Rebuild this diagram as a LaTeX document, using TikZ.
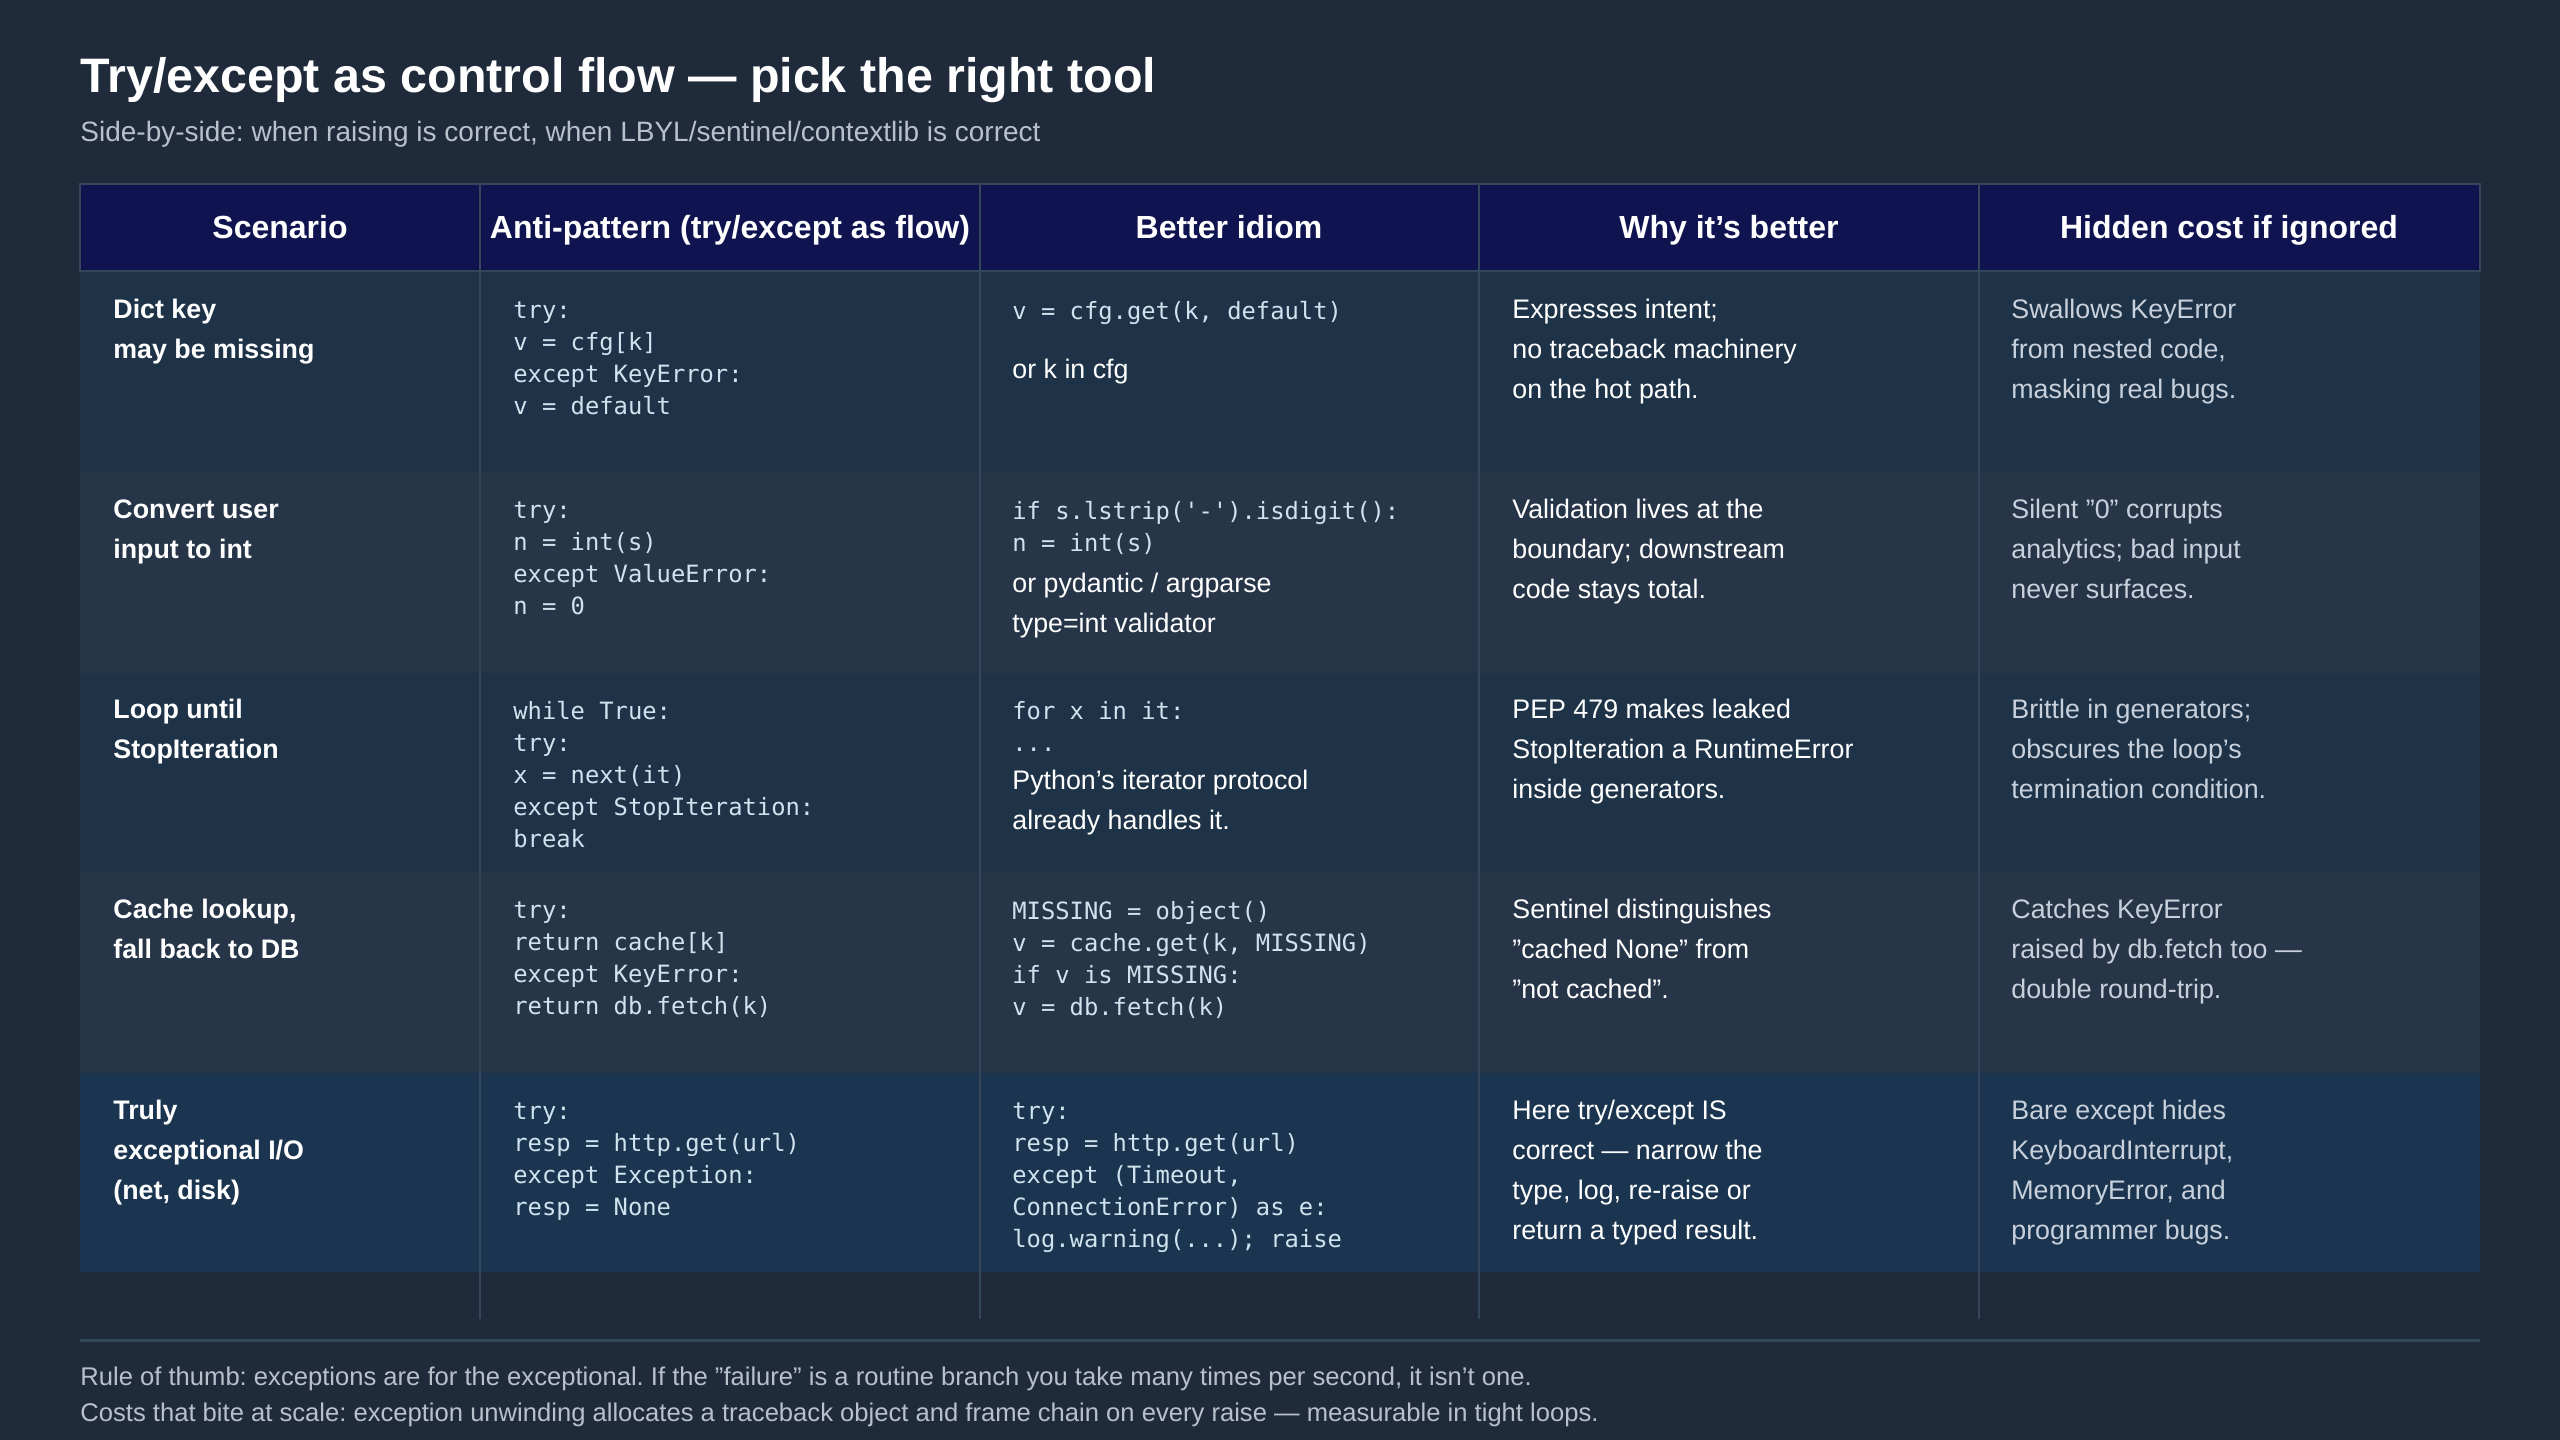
\documentclass[tikz,border=0pt]{standalone}
\usepackage{fontspec}
\setmainfont{Liberation Sans}
\setmonofont{DejaVu Sans Mono}
\usetikzlibrary{positioning}
\frenchspacing
\definecolor{bgc}{HTML}{1F2A3A}
\definecolor{headc}{HTML}{0F1450}
\definecolor{rowa}{HTML}{1E3347}
\definecolor{rowb}{HTML}{263548}
\definecolor{rowc}{HTML}{1B3550}
\definecolor{gridc}{HTML}{34465A}
\definecolor{codec}{HTML}{CFE3EE}
\definecolor{costc}{HTML}{C8D0DC}
\definecolor{footc}{HTML}{B8C0CC}
\newcommand{\dq}{\char34{}}
\newcommand{\ap}{\char39{}}
\tikzset{
  cell/.style={anchor=north west,inner sep=0pt,align=left,text=white,font=\fontsize{13.4}{20}\selectfont},
  scen/.style={cell,font=\fontsize{13.4}{20}\selectfont\bfseries},
  code/.style={cell,text=codec,font=\fontsize{11.9}{16}\ttfamily},
  cost/.style={cell,text=costc},
  head/.style={anchor=base,text=white,font=\fontsize{16}{20}\selectfont\bfseries},
  foot/.style={anchor=west,inner sep=0pt,text=footc,font=\fontsize{12.8}{16}\selectfont}
}
\begin{document}
\begin{tikzpicture}[x=0.5pt,y=-0.5pt]
  % background
  \fill[bgc] (0,0) rectangle (2560,1440);
  \useasboundingbox (0,0) rectangle (2560,1440);

  % title
  \node[anchor=west,inner sep=0pt,text=white,font=\fontsize{24.2}{28}\selectfont\bfseries] (title) at (80,80) {Try/except as control flow — pick the right tool};
  \node[anchor=west,inner sep=0pt,text=footc,font=\fontsize{14}{18}\selectfont] (subtitle) at (80,134) {Side-by-side: when raising is correct, when LBYL/sentinel/contextlib is correct};

  % header and row bands
  \fill[headc] (80,184) rectangle (2480,271);
  \fill[rowa] (80,271) rectangle (2480,472);
  \fill[rowb] (80,472) rectangle (2480,673);
  \fill[rowa] (80,673) rectangle (2480,872);
  \fill[rowb] (80,872) rectangle (2480,1073);
  \fill[rowc] (80,1073) rectangle (2480,1272);
  \draw[gridc,line width=1pt] (80,184) rectangle (2480,271);
  \foreach \x in {480,980,1479,1979} {
    \draw[gridc,line width=0.6pt] (\x,184) -- (\x,1319);
  }

  % header
  \node[head] (h1) at (280,238) {Scenario};
  \node[head] (h2) at (730,238) {Anti-pattern (try/except as flow)};
  \node[head] (h3) at (1229,238) {Better idiom};
  \node[head] (h4) at (1729,238) {Why it\ap s better};
  \node[head] (h5) at (2229,238) {Hidden cost if ignored};

  % row 1
  \node[scen] (sc1) at (113,299) {Dict key\\may be missing};
  \node[code] (anti1) at (513,301) {try:\\v = cfg[k]\\except KeyError:\\v = default};
  \node[code] (idiom1) at (1012,301) {v = cfg.get(k, default)};
  \node[cell,below=17pt of idiom1.south west,anchor=north west] (alt1) {or k in cfg};
  \node[cell] (why1) at (1512,299) {Expresses intent;\\no traceback machinery\\on the hot path.};
  \node[cost] (cost1) at (2011,299) {Swallows KeyError\\from nested code,\\masking real bugs.};

  % row 2
  \node[scen] (sc2) at (113,499) {Convert user\\input to int};
  \node[code] (anti2) at (513,501) {try:\\n = int(s)\\except ValueError:\\n = 0};
  \node[code] (idiom2) at (1012,501) {if s.lstrip(\ap-\ap).isdigit():\\n = int(s)};
  \node[cell,below=9pt of idiom2.south west,anchor=north west] (alt2) {or pydantic / argparse\\type=int validator};
  \node[cell] (why2) at (1512,499) {Validation lives at the\\boundary; downstream\\code stays total.};
  \node[cost] (cost2) at (2011,499) {Silent \dq0\dq{} corrupts\\analytics; bad input\\never surfaces.};

  % row 3
  \node[scen] (sc3) at (113,699) {Loop until\\StopIteration};
  \node[code] (anti3) at (513,701) {while True:\\try:\\x = next(it)\\except StopIteration:\\break};
  \node[code] (idiom3) at (1012,701) {for x in it:\\...};
  \node[cell,below=9pt of idiom3.south west,anchor=north west] (alt3) {Python\ap s iterator protocol\\already handles it.};
  \node[cell] (why3) at (1512,699) {PEP 479 makes leaked\\StopIteration a RuntimeError\\inside generators.};
  \node[cost] (cost3) at (2011,699) {Brittle in generators;\\obscures the loop\ap s\\termination condition.};

  % row 4
  \node[scen] (sc4) at (113,899) {Cache lookup,\\fall back to DB};
  \node[code] (anti4) at (513,901) {try:\\return cache[k]\\except KeyError:\\return db.fetch(k)};
  \node[code] (idiom4) at (1012,901) {MISSING = object()\\v = cache.get(k, MISSING)\\if v is MISSING:\\v = db.fetch(k)};
  \node[cell] (why4) at (1512,899) {Sentinel distinguishes\\\dq cached None\dq{} from\\\dq not cached\dq.};
  \node[cost] (cost4) at (2011,899) {Catches KeyError\\raised by db.fetch too —\\double round-trip.};

  % row 5
  \node[scen] (sc5) at (113,1100) {Truly\\exceptional I/O\\(net, disk)};
  \node[code] (anti5) at (513,1102) {try:\\resp = http.get(url)\\except Exception:\\resp = None};
  \node[code] (idiom5) at (1012,1102) {try:\\resp = http.get(url)\\except (Timeout,\\ConnectionError) as e:\\log.warning(...); raise};
  \node[cell] (why5) at (1512,1100) {Here try/except IS\\correct — narrow the\\type, log, re-raise or\\return a typed result.};
  \node[cost] (cost5) at (2011,1100) {Bare except hides\\KeyboardInterrupt,\\MemoryError, and\\programmer bugs.};

  % footer
  \draw[gridc,line width=1.5pt] (80,1340) -- (2480,1340);
  \node[foot] (rule) at (80,1379) {Rule of thumb: exceptions are for the exceptional. If the \dq failure\dq{} is a routine branch you take many times per second, it isn\ap t one.};
  \node[foot] (costs) at (80,1415) {Costs that bite at scale: exception unwinding allocates a traceback object and frame chain on every raise — measurable in tight loops.};
\end{tikzpicture}
\end{document}
